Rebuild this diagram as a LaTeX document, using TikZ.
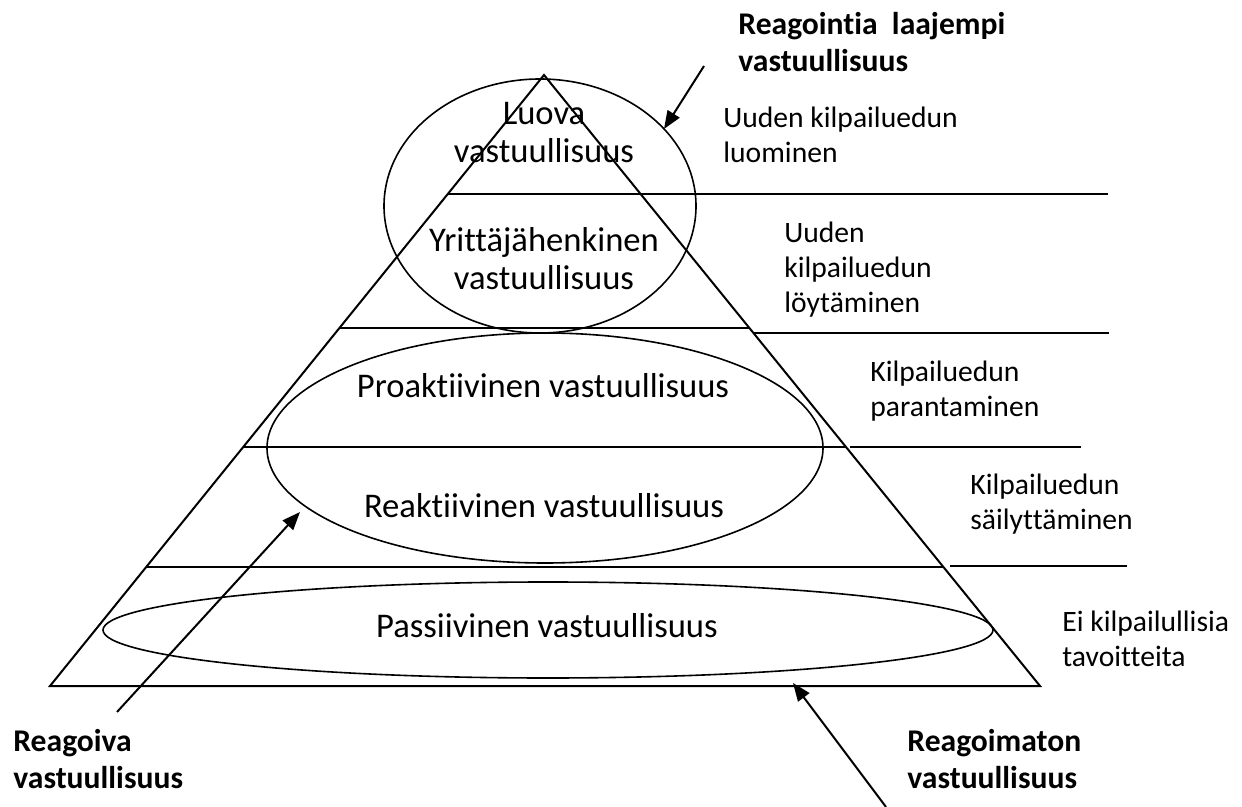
\documentclass[tikz,border=0pt]{standalone}
\usepackage{fontspec}
\setmainfont{Carlito}[Ligatures=NoCommon]
\usetikzlibrary{arrows.meta}

\tikzset{
  tier/.style={font=\fontsize{17.3}{19}\selectfont, align=center, inner sep=0pt},
  goal/.style={font=\fontsize{14.8}{17.5}\selectfont, align=left, anchor=north west, inner sep=0pt},
  kind/.style={font=\fontsize{15.8}{18.7}\selectfont\bfseries, align=left, anchor=north west, inner sep=0pt},
  pyr/.style={line width=1pt},
  ext/.style={line width=0.8pt},
  zone/.style={line width=0.8pt},
  pointer/.style={line width=1pt, -{Triangle[length=9pt, width=7pt]}}
}

\begin{document}
\begin{tikzpicture}[x=0.5pt, y=-0.5pt]
    \useasboundingbox (0,0) rectangle (1242,807);

    % Pyramid

    \coordinate (apex) at (544,75);
    \coordinate (baseL) at (50,686);
    \coordinate (baseR) at (1040,686);
    \draw[pyr] (baseL) -- (apex) -- (baseR) -- cycle;

    \draw[pyr] (448,194) -- (1108,194);
    \draw[pyr] (340,328) -- (750,328);
    \draw[ext] (753,333) -- (1109,333);
    \draw[pyr] (243,447) -- (846,447);
    \draw[ext] (850,447) -- (1081,447);
    \draw[pyr] (146,567) -- (943,567);
    \draw[ext] (950,566) -- (1127,566);

    % Ellipses

    \draw[zone] (540,206) ellipse [x radius=156, y radius=127];
    \draw[zone] (545,448) ellipse [x radius=278, y radius=115];
    \draw[zone] (548,630) ellipse [x radius=445, y radius=48];

    % Tiers

    \node[tier, anchor=north] (luova) at (544,102) {Luova\\vastuullisuus};
    \node[tier, anchor=north] (yrittaja) at (544,227) {Yrittäjähenkinen\\vastuullisuus};
    \node[tier, anchor=base] (proakt) at (543,398) {Proaktiivinen vastuullisuus};
    \node[tier, anchor=base] (reakt) at (544,517) {Reaktiivinen vastuullisuus};
    \node[tier, anchor=base] (passiiv) at (547,637) {Passiivinen vastuullisuus};

    % Goals

    \node[goal] (luominen) at (723,107) {Uuden kilpailuedun\\luominen};
    \node[goal] (loytaminen) at (784,222) {Uuden\\kilpailuedun\\löytäminen};
    \node[goal] (parantaminen) at (870,361) {Kilpailuedun\\parantaminen};
    \node[goal] (sailyttaminen) at (970,474) {Kilpailuedun\\säilyttäminen};
    \node[goal] (eitavoite) at (1062,611) {Ei kilpailullisia\\tavoitteita};

    % Kinds of responsibility

    \node[kind] (laajempi) at (738,12) {Reagointia\ \ laajempi\\vastuullisuus};
    \node[kind] (reagoiva) at (13,729) {Reagoiva\\vastuullisuus};
    \node[kind] (reagoimaton) at (907,729) {Reagoimaton\\vastuullisuus};

    % Arrows

    \coordinate (laajTail) at (704,66);
    \coordinate (laajTip) at (664,129);
    \coordinate (reagTail) at (117,712);
    \coordinate (reagTip) at (300,512);
    \coordinate (rmTail) at (886,807);
    \coordinate (rmTip) at (793,683);

    \draw[pointer] (laajTail) -- (laajTip);
    \draw[pointer] (reagTail) -- (reagTip);
    \draw[pointer] (rmTail) -- (rmTip);

\end{tikzpicture}
\end{document}
